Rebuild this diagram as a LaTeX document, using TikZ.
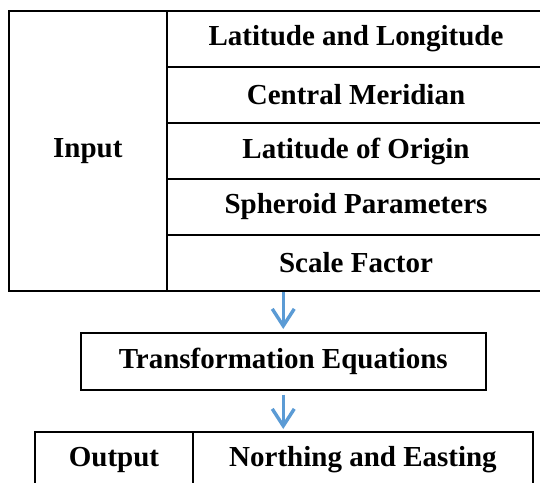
\documentclass[tikz,border=0pt]{standalone}
\usepackage{fontspec}
\setmainfont{Liberation Serif}
\usetikzlibrary{arrows.meta}
\definecolor{arrowblue}{HTML}{5B9BD5}
\begin{document}
\begin{tikzpicture}[x=1pt,y=-1pt,
  cell/.style={draw=black, line width=2pt, font=\fontsize{29}{34}\selectfont\bfseries,
    inner sep=0pt, anchor=north west, align=center},
  flow/.style={draw=arrowblue, line width=3pt,
    -{Straight Barb[length=17pt,width=22pt,line width=3.4pt]}}]
\useasboundingbox (0,0) rectangle (540,482);
\clip (0,0) rectangle (540,482);
% input block
\node[cell, minimum width=158.4pt, minimum height=280pt] (input) at (7.6,10) {Input};
\node[cell, minimum width=378pt, minimum height=56pt] (r1) at (166,10) {Latitude and Longitude};
\node[cell, minimum width=378pt, minimum height=56pt] (r2) at (166,66) {Central Meridian};
\node[cell, minimum width=378pt, minimum height=56pt] (r3) at (166,122) {Latitude of Origin};
\node[cell, minimum width=378pt, minimum height=56pt] (r4) at (166,178) {Spheroid Parameters};
\node[cell, minimum width=378pt, minimum height=56pt] (r5) at (166,234) {Scale Factor};
% transformation
\node[cell, minimum width=404.5pt, minimum height=56.6pt] (trans) at (80,332) {Transformation Equations};
% output
\node[cell, minimum width=158pt, minimum height=56pt] (out) at (34,431) {Output};
\node[cell, minimum width=340pt, minimum height=56pt] (nae) at (192,431) {Northing and Easting};
% arrows
\draw[flow, shorten >=3pt] (trans.north |- r5.south) -- (trans.north);
\draw[flow, shorten <=4pt, shorten >=2pt] (trans.south) -- (trans.south |- nae.north);
\end{tikzpicture}
\end{document}
